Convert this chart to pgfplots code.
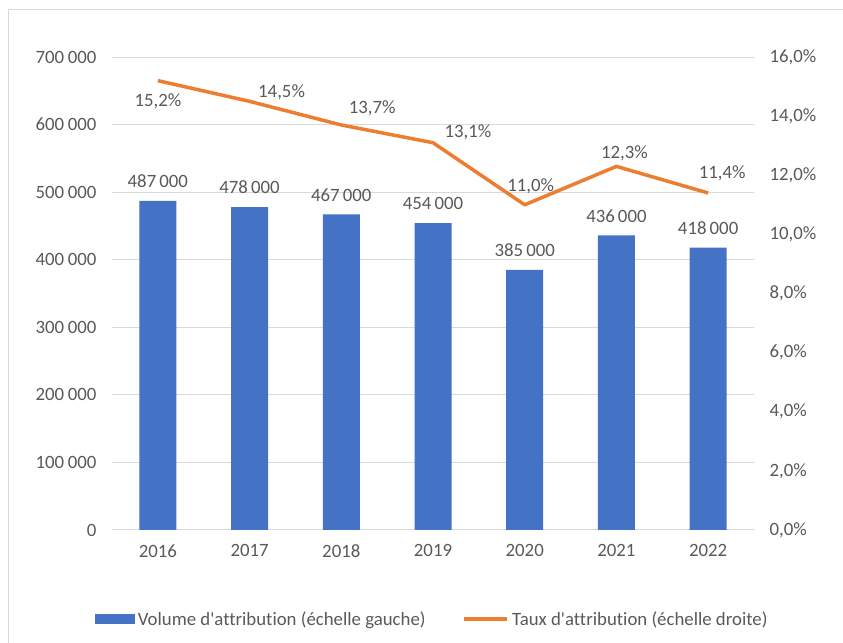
\documentclass[border=0pt]{standalone}
\usepackage{fontspec}
\setmainfont{Carlito}[Ligatures=NoCommon]
\usepackage{pgfplots}
\pgfplotsset{compat=1.18}
\usepackage{pgfplotstable}

\definecolor{barblue}{HTML}{4472C4}
\definecolor{lineorange}{HTML}{ED7D31}
\definecolor{gridgray}{HTML}{D9D9D9}
\definecolor{textgray}{HTML}{595959}
\newcommand\chartfont{\fontsize{18.8bp}{22bp}\selectfont}

% volume d'attribution (echelle gauche)
\pgfplotstableread{
x y
0 487000
1 478000
2 467000
3 454000
4 385000
5 436000
6 418000
}\volume

% taux d'attribution (echelle droite), dx/dy = label offsets in bp
\pgfplotstableread{
x y dx dy
0 15.2 0 -21
1 14.5 32 9
2 13.7 31 17
3 13.1 35 10
4 11.0 6 19
5 12.3 8 13
6 11.4 14 20
}\taux

\pgfplotsset{
  common/.style={
    at={(112bp,113bp)}, anchor=south west,
    scale only axis, width=642bp, height=473bp,
    xmin=-0.5, xmax=6.5,
    axis line style={draw=none},
    major tick length=0,
    /pgf/number format/assume math mode=true,
    tick label style={font=\chartfont, text=textgray},
  },
}

\begin{document}
\begin{tikzpicture}
\useasboundingbox (0,0) rectangle (843bp,643bp);
\draw[gridgray, line width=1bp] (8bp,0) -- (8bp,633bp) -- (843bp,633bp);

\begin{axis}[
    common,
    ymin=0, ymax=700000,
    ytick={0,100000,...,700000},
    scaled y ticks=false,
    yticklabel={\pgfmathprintnumber[fixed,1000 sep={\hspace{0.2em}}]{\tick}},
    yticklabel style={anchor=east, xshift=-12bp},
    xtick={0,...,6},
    xticklabels={2016,2017,2018,2019,2020,2021,2022},
    xticklabel style={yshift=-11bp},
    ymajorgrids,
    grid style={draw=gridgray, line width=1bp},
    ybar, bar width=37bp,
    nodes near coords={\pgfmathprintnumber[fixed,1000 sep={\,}]{\pgfplotspointmeta}},
    nodes near coords style={font=\chartfont, text=textgray,
      inner sep=0pt, anchor=south, yshift=13bp},
]
\addplot[fill=barblue, draw=none] table[x=x, y=y] {\volume};
\end{axis}

\begin{axis}[
    common,
    ymin=0, ymax=16,
    ytick={0,2,...,16},
    axis y line*=right,
    axis x line=none,
    yticklabel={\pgfmathprintnumber[fixed,precision=1,zerofill,use comma]{\tick}\%},
    yticklabel style={anchor=west, xshift=12bp},
    legend columns=2,
    legend style={at={(0.5,-0.188)}, anchor=center, draw=none, fill=none,
      font=\chartfont, text=textgray,
      nodes={inner ysep=2bp, inner xsep=3bp},
      /tikz/every even column/.append style={column sep=34bp}},
]
\addlegendimage{legend image code/.code={\fill[barblue] (0bp,-4.5bp) rectangle (39bp,4.5bp);}}
\addlegendentry{Volume d\textquotesingle attribution (échelle gauche)}
\addplot[lineorange, line width=3.5bp, line join=round, mark=none,
    legend image code/.code={\draw[lineorange, line width=3.5bp] (0bp,0bp) -- (43bp,0bp);},
    visualization depends on={\thisrow{dx} \as \dx},
    visualization depends on={\thisrow{dy} \as \dy},
    nodes near coords={\pgfmathprintnumber[fixed,precision=1,zerofill,use comma]{\pgfplotspointmeta}\%},
    nodes near coords style={font=\chartfont, text=textgray,
      inner sep=0pt, anchor=center, xshift=\dx bp, yshift=\dy bp},
] table[x=x, y=y] {\taux};
\addlegendentry{Taux d\textquotesingle attribution (échelle droite)}
\end{axis}
\end{tikzpicture}
\end{document}
